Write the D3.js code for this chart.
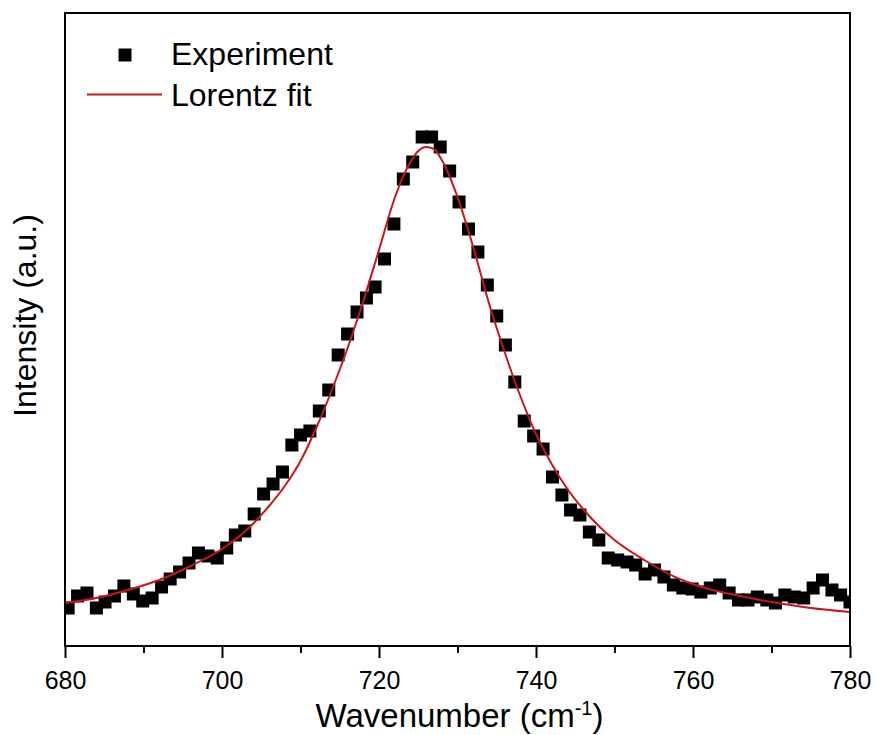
<!DOCTYPE html>
<html>
<head>
<meta charset="utf-8">
<script src="https://cdn.jsdelivr.net/npm/d3@7"></script>
<style>
  body { margin: 0; background: #fff; }
  text { font-family: "Liberation Sans", Arial, sans-serif; fill: #000; }
</style>
</head>
<body>
<div id="chart"></div>
<script>
// measured spectrum (wavenumber in cm-1, intensity in a.u.)
var wavenumber = [680.4, 681.6, 682.8, 684.0, 685.1, 686.3, 687.5, 688.7, 689.9, 691.1,
    692.3, 693.4, 694.6, 695.8, 697.0, 698.2, 699.4, 700.6, 701.7, 702.9,
    704.1, 705.3, 706.5, 707.7, 708.9, 710.0, 711.2, 712.4, 713.6, 714.8,
    716.0, 717.2, 718.4, 719.5, 720.7, 721.9, 723.1, 724.3, 725.5, 726.7,
    727.8, 729.0, 730.2, 731.4, 732.6, 733.8, 735.0, 736.1, 737.3, 738.5,
    739.7, 740.9, 742.1, 743.3, 744.4, 745.6, 746.8, 748.0, 749.2, 750.4,
    751.6, 752.7, 753.9, 755.1, 756.3, 757.5, 758.7, 759.9, 761.0, 762.2,
    763.4, 764.6, 765.8, 767.0, 768.2, 769.4, 770.5, 771.7, 772.9, 774.1,
    775.3, 776.5, 777.7, 778.8, 780.0];
var intensity = [38, 50, 53, 38, 44, 50, 60, 52, 45, 48,
    59, 67, 74, 83, 93, 90, 88, 98, 111, 115,
    132, 152, 162, 174, 201, 211, 215, 235, 256, 291,
    312, 334, 348, 359, 387, 422, 467, 484, 509, 509,
    499, 475, 444, 417, 394, 361, 330, 301, 264, 225,
    210, 197, 169, 151, 136, 131, 114, 106, 88, 86,
    84, 81, 72, 76, 69, 61, 58, 57, 54, 58,
    61, 53, 46, 46, 49, 46, 43, 51, 49, 48,
    58, 66, 56, 51, 44];

// Lorentz fit curve
var fitWavenumber = [680, 684, 688, 692, 696, 700, 703, 706, 708, 710,
    712, 714, 716, 718, 720, 722, 724, 725, 726, 727,
    728, 730, 732, 734, 736, 738, 740, 742, 744, 746,
    748, 750, 754, 758, 762, 766, 770, 775, 780];
var fitIntensity = [43, 48, 56, 66, 80, 97, 115, 140, 160, 185,
    218, 256, 298, 345, 396, 448, 484, 495, 499, 497,
    486, 449, 399, 343, 294, 250, 212, 182, 157, 137,
    120, 106, 85, 68, 57, 50, 44, 38, 34];

var xTicks = [680, 700, 720, 740, 760, 780];
var xMinorTicks = [690, 710, 730, 750, 770];

var margin = { left: 65, right: 27, top: 13, bottom: 89 };
var width = 877 - margin.left - margin.right,
    height = 735 - margin.top - margin.bottom;

var svg = d3.select("#chart")
    .append("svg")
        .attr("width", width + margin.left + margin.right)
        .attr("height", height + margin.top + margin.bottom)
    .append("g")
        .attr("transform", "translate(" + margin.left + "," + margin.top + ")");

var xScale = d3.scaleLinear().domain([680, 780]).range([0, width]);
var yScale = d3.scaleLinear().domain([0, 633]).range([height, 0]);

svg.append("clipPath")
    .attr("id", "plot-clip")
    .append("rect")
        .attr("width", width)
        .attr("height", height);

var plot = svg.append("g").attr("clip-path", "url(#plot-clip)");

var points = wavenumber.map(function(w, i) { return { x: w, y: intensity[i] }; });
var fit = fitWavenumber.map(function(w, i) { return { x: w, y: fitIntensity[i] }; });

var size = 13;
plot.selectAll("rect.pt")
    .data(points)
    .enter()
    .append("rect")
        .attr("class", "pt")
        .attr("x", function(d) { return xScale(d.x) - size / 2; })
        .attr("y", function(d) { return yScale(d.y) - size / 2; })
        .attr("width", size)
        .attr("height", size)
        .style("fill", "#000");

var line = d3.line()
    .curve(d3.curveMonotoneX)
    .x(function(d) { return xScale(d.x); })
    .y(function(d) { return yScale(d.y); });

plot.append("path")
    .attr("d", line(fit))
    .style("fill", "none")
    .style("stroke", "#c8161d")
    .style("stroke-width", "2px");

// axes
var xaxis = d3.axisBottom(xScale)
    .tickValues(xTicks)
    .tickFormat(d3.format("d"))
    .tickSize(12)
    .tickSizeOuter(0)
    .tickPadding(13);

var xMinor = d3.axisBottom(xScale)
    .tickValues(xMinorTicks)
    .tickFormat("")
    .tickSize(7)
    .tickSizeOuter(0);

var gx = svg.append("g")
    .attr("transform", "translate(0," + height + ")")
    .call(xaxis);
gx.select(".domain").remove();
gx.selectAll("line").style("stroke", "#000").style("stroke-width", "2px");
gx.selectAll("text").attr("font-size", "25px").style("fill", "#000");

var gm = svg.append("g")
    .attr("transform", "translate(0," + height + ")")
    .call(xMinor);
gm.select(".domain").remove();
gm.selectAll("line").style("stroke", "#000").style("stroke-width", "2px");

svg.append("rect")
    .attr("width", width)
    .attr("height", height)
    .style("fill", "none")
    .style("stroke", "#000")
    .style("stroke-width", "2px");

// axis titles
var xl = svg.append("text")
    .attr("x", width / 2 + 2)
    .attr("y", height + 81)
    .attr("font-size", "33px")
    .attr("text-anchor", "middle");
xl.append("tspan").text("Wavenumber (cm");
xl.append("tspan").attr("font-size", "20px").attr("dy", "-12").text("-1");
xl.append("tspan").attr("dy", "12").text(")");

svg.append("text")
    .attr("transform", "rotate(-90)")
    .attr("x", -(height / 2) + 14)
    .attr("y", -29)
    .attr("font-size", "32px")
    .attr("text-anchor", "middle")
    .text("Intensity (a.u.)");

// legend
var legend = svg.append("g");
legend.append("rect")
    .attr("x", 60 - size / 2)
    .attr("y", 42 - size / 2)
    .attr("width", size)
    .attr("height", size)
    .style("fill", "#000");
legend.append("text")
    .attr("x", 106)
    .attr("y", 52)
    .attr("font-size", "32px")
    .text("Experiment");
legend.append("line")
    .attr("x1", 22)
    .attr("x2", 97)
    .attr("y1", 81.5)
    .attr("y2", 81.5)
    .style("stroke", "#c8161d")
    .style("stroke-width", "2px");
legend.append("text")
    .attr("x", 106)
    .attr("y", 93)
    .attr("font-size", "32px")
    .text("Lorentz fit");
</script>
</body>
</html>
